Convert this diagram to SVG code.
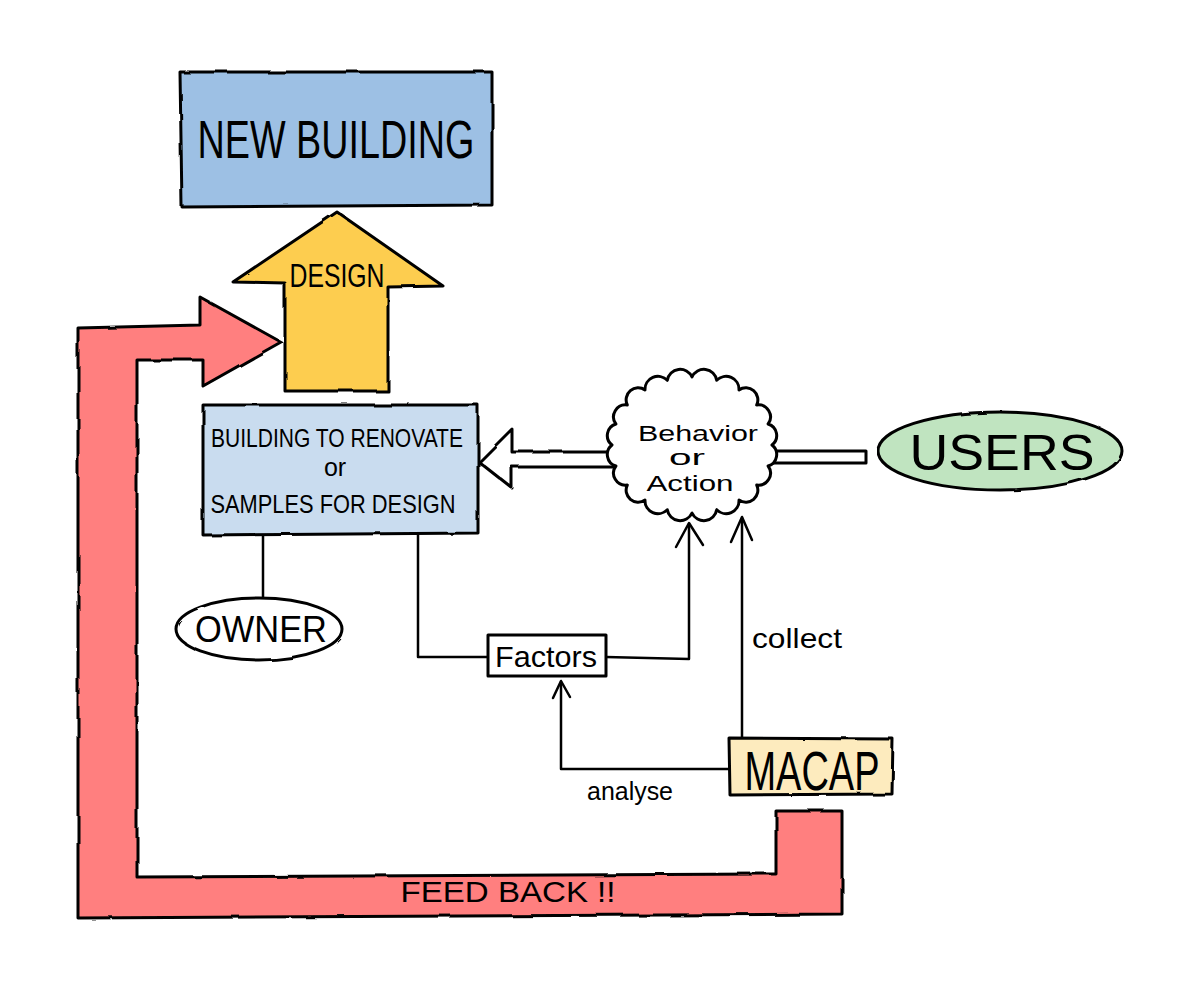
<svg xmlns="http://www.w3.org/2000/svg" width="1200" height="991" viewBox="0 0 1200 991">
<defs>
<filter id="rough" x="-5%" y="-5%" width="110%" height="110%">
<feTurbulence type="fractalNoise" baseFrequency="0.03" numOctaves="2" seed="3"/>
<feDisplacementMap in="SourceGraphic" scale="3"/>
</filter>
<style>
.s{stroke:#000;stroke-width:3;stroke-linejoin:round;stroke-linecap:round}
.ln{fill:none;stroke:#000;stroke-width:2.5;stroke-linejoin:round;stroke-linecap:round}
.t{font-family:"Liberation Sans",Arial,sans-serif;fill:#000;text-anchor:middle}
</style>
</defs>
<rect width="1200" height="991" fill="#fff"/>

<g id="connectors">
<path class="ln" d="M263 535 L263 598"/>
<path class="ln" d="M418 535 L418 657 L488 657"/>
<path class="ln" d="M606 657 L689 659 L689 524"/>
<path class="ln" d="M676 547 L689 523 L703 545"/>
<path class="ln" d="M742 738 L742 518"/>
<path class="ln" d="M731 542 L742 517 L752 540"/>
<path class="ln" d="M729 769 L561 769 L561 682"/>
<path class="ln" d="M553 698 L561 681 L570 697"/>
<text class="t" x="797" y="648" font-size="28" textLength="90" lengthAdjust="spacingAndGlyphs">collect</text>
<text class="t" x="630" y="800" font-size="26" textLength="86" lengthAdjust="spacingAndGlyphs">analyse</text>
</g>

<g id="feedback">
<path class="s" filter="url(#rough)" fill="#FF7F7F" d="M78 328 L200 325 L200 297 L281 342 L203 386 L203 360 L137 360 L137 877 L776 874 L776 811 L842 811 L842 914 L78 918 Z"/>
<text class="t" x="508" y="902" font-size="30" textLength="215" lengthAdjust="spacingAndGlyphs">FEED BACK !!</text>
</g>

<g id="new-building">
<path class="s" filter="url(#rough)" fill="#9DC0E4" d="M180 72 L492 72 L492 205 L182 207 Z"/>
<text class="t" x="336" y="158" font-size="54" textLength="277" lengthAdjust="spacingAndGlyphs">NEW BUILDING</text>
</g>

<g id="design">
<path class="s" filter="url(#rough)" fill="#FDCD50" d="M337 212 L443 286 L388 287 L388 391 L285 391 L285 283 L233 282 Z"/>
<text class="t" x="337" y="287" font-size="33" textLength="95" lengthAdjust="spacingAndGlyphs">DESIGN</text>
</g>

<g id="building-to-renovate">
<path class="s" filter="url(#rough)" fill="#C9DCEF" d="M203 405 L478 405 L478 533 L203 535 Z"/>
<text class="t" x="337" y="447" font-size="25" textLength="252" lengthAdjust="spacingAndGlyphs">BUILDING TO RENOVATE</text>
<text class="t" x="335" y="476" font-size="25">or</text>
<text class="t" x="333" y="513" font-size="25" textLength="245" lengthAdjust="spacingAndGlyphs">SAMPLES FOR DESIGN</text>
</g>

<g id="behavior-arrow">
<path class="s" filter="url(#rough)" fill="#fff" d="M479 462 L512 429 L512 452 L616 452 L616 467 L512 467 L512 488 Z"/>
</g>

<g id="users-link">
<path class="s" fill="#fff" d="M760 451 L866 451 L866 463 L760 463 Z"/>
</g>

<g id="behavior">
<path class="s" fill="#fff" d="M772 445 A12 12 0 0 1 768.1 466 A12 12 0 0 1 756.7 485 A12 12 0 0 1 739 500 A13 13 0 0 1 716.7 509.7 A13 13 0 0 1 692 513 A13 13 0 0 1 667.3 509.7 A13 13 0 0 1 645 500 A12 12 0 0 1 627.3 485 A12 12 0 0 1 615.9 466 A12 12 0 0 1 612 445 A12 12 0 0 1 615.9 424 A12 12 0 0 1 627.3 405 A12 12 0 0 1 645 390 A13 13 0 0 1 667.3 380.3 A13 13 0 0 1 692 377 A13 13 0 0 1 716.7 380.3 A13 13 0 0 1 739 390 A12 12 0 0 1 756.7 405 A12 12 0 0 1 768.1 424 A12 12 0 0 1 772 445 Z"/>
<text class="t" x="698" y="441" font-size="22" textLength="120" lengthAdjust="spacingAndGlyphs">Behavior</text>
<text class="t" x="687" y="465" font-size="22" textLength="36" lengthAdjust="spacingAndGlyphs">or</text>
<text class="t" x="690" y="491" font-size="22" textLength="87" lengthAdjust="spacingAndGlyphs">Action</text>
</g>

<g id="users">
<ellipse class="s" filter="url(#rough)" fill="#C0E4C0" cx="1000" cy="451" rx="122" ry="39"/>
<text class="t" x="1002" y="470" font-size="50" textLength="185" lengthAdjust="spacingAndGlyphs">USERS</text>
</g>

<g id="owner">
<ellipse class="s" filter="url(#rough)" fill="#fff" cx="259" cy="629" rx="83" ry="31"/>
<text class="t" x="261" y="642" font-size="36" textLength="132" lengthAdjust="spacingAndGlyphs">OWNER</text>
</g>

<g id="factors">
<rect class="s" fill="#fff" x="488" y="635" width="118" height="41" stroke-width="2.5"/>
<text class="t" x="546" y="667" font-size="30" textLength="102" lengthAdjust="spacingAndGlyphs">Factors</text>
</g>

<g id="macap">
<path class="s" filter="url(#rough)" fill="#FDEBBE" d="M729 738 L893 739 L892 794 L730 795 Z"/>
<text class="t" x="812" y="790" font-size="56" textLength="135" lengthAdjust="spacingAndGlyphs">MACAP</text>
</g>
</svg>
